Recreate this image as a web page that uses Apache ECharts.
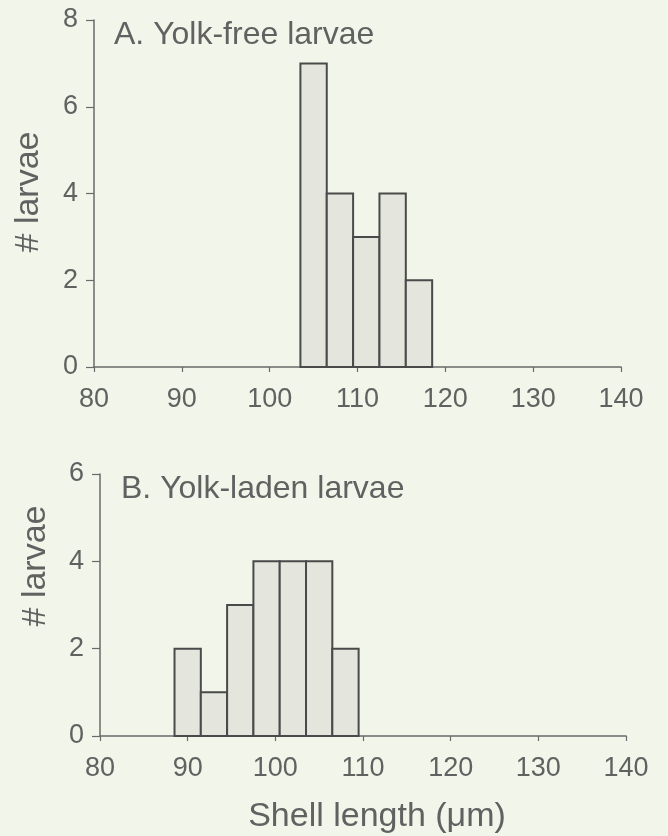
<!DOCTYPE html>
<html>
<head>
<meta charset="utf-8">
<script src="https://cdn.jsdelivr.net/npm/echarts@6/dist/echarts.min.js"></script>
<style>
html,body{margin:0;padding:0;background:#f2f5e9;}
#chart{width:668px;height:836px;}
</style>
</head>
<body>
<div id="chart"></div>
<script>
// ---- data ----
const binWidth = 3; // µm
const binCentersA = [105, 108, 111, 114, 117];
const countsA = [7, 4, 3, 4, 2];
const binCentersB = [90, 93, 96, 99, 102, 105, 108];
const countsB = [2, 1, 3, 4, 4, 4, 2];
const xTicks = [80, 90, 100, 110, 120, 130, 140];
const yTicksA = [0, 2, 4, 6, 8];
const yTicksB = [0, 2, 4, 6];
const titleA = 'A. Yolk-free larvae';
const titleB = 'B. Yolk-laden larvae';
const yName = '# larvae';
const xName = 'Shell length (\u03bcm)';

const FONT = 'Liberation Sans';
const TXT = '#616161';
const AX = '#6a6a6a';

const chart = echarts.init(document.getElementById('chart'));

function xAxisCfg(gi) {
  return {
    type: 'value', gridIndex: gi, min: xTicks[0], max: xTicks[xTicks.length - 1], interval: 10,
    axisLine: {show: true, onZero: false, lineStyle: {color: AX, width: 1.5}},
    axisTick: {show: true, length: 5, inside: false, lineStyle: {color: AX, width: 1.2}},
    axisLabel: {color: TXT, fontSize: 27, fontFamily: FONT, margin: 19},
    splitLine: {show: false}
  };
}
function yAxisCfg(gi, ticks) {
  return {
    type: 'value', gridIndex: gi, min: 0, max: ticks[ticks.length - 1], interval: 2,
    axisLine: {show: true, lineStyle: {color: AX, width: 1.5}},
    axisTick: {show: true, length: 8, inside: false, lineStyle: {color: AX, width: 1.2}},
    axisLabel: {color: TXT, fontSize: 27, fontFamily: FONT, margin: 16},
    splitLine: {show: false}
  };
}
function histSeries(gi, centers, counts) {
  return {
    type: 'custom', xAxisIndex: gi, yAxisIndex: gi,
    data: centers.map((c, i) => [c, counts[i]]),
    encode: {x: 0, y: 1},
    renderItem: function (params, api) {
      const c = api.value(0), v = api.value(1);
      const p0 = api.coord([c - binWidth / 2, v]);
      const p1 = api.coord([c + binWidth / 2, 0]);
      return {
        type: 'rect',
        shape: {x: p0[0], y: p0[1], width: p1[0] - p0[0], height: p1[1] - p0[1]},
        style: {fill: '#e4e6dd', stroke: '#4a4a4a', lineWidth: 2}
      };
    }
  };
}

chart.setOption({
  backgroundColor: '#f2f5e9',
  animation: false,
  title: [
    {text: titleA, left: 109, top: 14, textStyle: {color: TXT, fontSize: 32, fontWeight: 'normal', fontFamily: FONT}},
    {text: titleB, left: 116, top: 468, textStyle: {color: TXT, fontSize: 32, fontWeight: 'normal', fontFamily: FONT}}
  ],
  grid: [
    {left: 94, right: 47, top: 20, bottom: 469},
    {left: 100, right: 42, top: 474, bottom: 100}
  ],
  xAxis: [xAxisCfg(0), xAxisCfg(1)],
  yAxis: [yAxisCfg(0, yTicksA), yAxisCfg(1, yTicksB)],
  series: [histSeries(0, binCentersA, countsA), histSeries(1, binCentersB, countsB)],
  graphic: [
    {type: 'text', x: 29, y: 192, rotation: Math.PI / 2,
     style: {text: yName, fill: TXT, fontSize: 34, fontFamily: FONT, align: 'center', verticalAlign: 'middle'}},
    {type: 'text', x: 36, y: 566, rotation: Math.PI / 2,
     style: {text: yName, fill: TXT, fontSize: 34, fontFamily: FONT, align: 'center', verticalAlign: 'middle'}},
    {type: 'text', x: 377, y: 817,
     style: {text: xName, fill: TXT, fontSize: 34, fontFamily: FONT, align: 'center', verticalAlign: 'middle'}}
  ]
});
</script>
</body>
</html>
